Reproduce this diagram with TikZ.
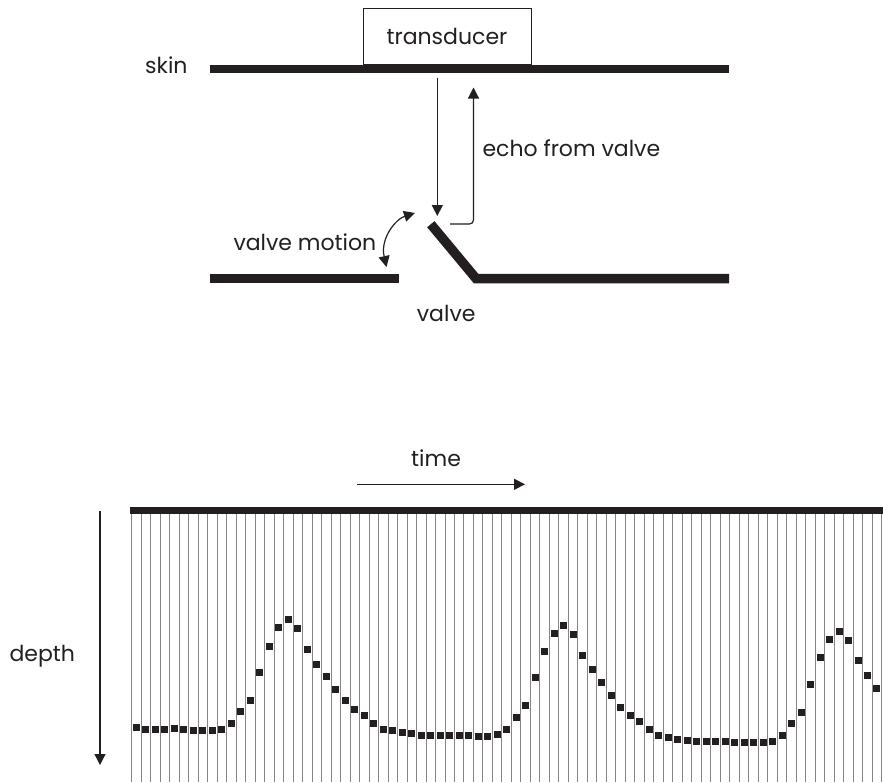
\documentclass[tikz,border=0pt]{standalone}
\usepackage{fontspec}
\setmainfont{Poppins}
\usepackage{xcolor}
\definecolor{ink}{HTML}{231F20}
\usetikzlibrary{arrows.meta,positioning}

\begin{document}
\begin{tikzpicture}[
  x=1pt, y=-1pt,
  font=\fontsize{22}{26}\selectfont, text=ink,
  lbl/.style={inner sep=0pt, anchor=base west},
  wall/.style={line width=8pt, ink},
  arr/.style={-{Triangle[length=11pt,width=11pt]}, line width=1.2pt, ink},
  trace/.style={ink!55, line width=1pt},
  dot/.style={fill=ink}
]
\useasboundingbox (0,0) rectangle (883,782);
% skin, transducer and the two beams
\draw[wall] (210,68.5) -- (729,68.5);
\node[draw=ink, line width=0.9pt, minimum width=168pt, minimum height=56pt, inner sep=0pt, anchor=north west] (tr) at (362.5,8.3) {transducer};
\node[lbl] (skin) at (145,73.3) {skin};
\coordinate (dn1) at (437.3,77.5);
\coordinate (dn2) at (437.3,216);
\coordinate (ec1) at (450,224);
\coordinate (ec2) at (473.5,224);
\coordinate (ec3) at (473.5,87.5);
\draw[arr] (dn1) -- (dn2);
\draw[arr, rounded corners=4pt] (ec1) -- (ec2) -- (ec3);
\node[lbl] (echo) at (482.3,156.7) {echo from valve};
% valve
\draw[wall, line width=9.5pt] (210,278.5) -- (398.5,278.5);
\draw[wall, line width=9.5pt] (430.8,224.2) -- (476,278.5) -- (729,278.5);
\coordinate (vm1) at (386.5,267);
\coordinate (vm2) at (415,213);
\draw[arr, {Triangle[length=11pt,width=11pt]}-{Triangle[length=11pt,width=11pt]}] (vm1) .. controls (380,238) and (396,219) .. (vm2);
\node[lbl] (vm) at (233.3,250) {valve motion};
\node[lbl] (valve) at (416.7,321.7) {valve};
% M-mode trace
\node[lbl] (time) at (411,466.7) {time};
\coordinate (t1) at (357.3,484.3);
\coordinate (t2) at (525,484.3);
\draw[arr] (t1) -- (t2);
\node[lbl] (depth) at (9.3,661.7) {depth};
\coordinate (d1) at (100,511);
\coordinate (d2) at (100,765);
\draw[arr] (d1) -- (d2);
\draw[line width=7.5pt, ink] (130,510.3) -- (883,510.3);
\foreach \i in {0,...,79}
  \draw[trace] ({131.7+9.494*\i},514) -- ({131.7+9.494*\i},782);
\foreach \yv [count=\k from 0] in {727.3,729.3,729.3,729.3,728.3,729.3,730.3,730.3,730.3,729.3,
  723.3,711.3,700.3,672.3,646.3,627.3,619.3,628.3,649.3,664.3,
  676.3,689.3,700.3,709.3,715.3,723.3,729.3,730.3,732.3,733.3,
  735.3,735.3,735.3,735.3,735.3,735.3,736.3,736.3,734.3,729.3,
  717.3,705.3,677.3,651.3,633.3,625.3,634.3,655.3,669.3,682.3,
  695.3,707.3,715.3,721.3,729.3,735.3,737.3,739.3,740.3,741.3,
  741.3,741.3,741.3,742.3,742.3,742.3,742.3,741.3,735.3,723.3,
  712.3,684.3,657.3,639.3,631.3,640.3,660.3,675.3,688.3}
  \fill[dot] ({136.45+9.494*\k-3.5},{\yv-3.2}) rectangle ++(7,6.4);
\end{tikzpicture}
\end{document}
